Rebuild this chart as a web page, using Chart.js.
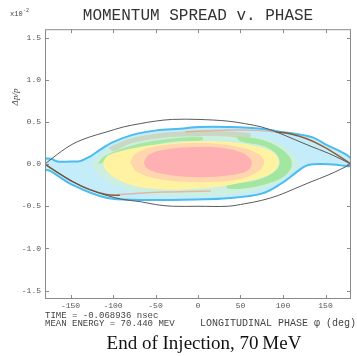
<!DOCTYPE html>
<html>
<head>
<meta charset="utf-8">
<script src="https://cdn.jsdelivr.net/npm/chart.js@4.4.1/dist/chart.umd.min.js"></script>
<style>
  html, body { margin: 0; padding: 0; background: #fff; }
  #wrap { width: 357px; height: 356px; }
</style>
</head>
<body>
<div id="wrap"><canvas id="phase" width="357" height="356"></canvas></div>
<script>
// tick values
const phaseTicks = [-150, -100, -50, 0, 50, 100, 150];
const dpTicks = [-1.5, -1.0, -0.5, 0.0, 0.5, 1.0, 1.5];

// separatrix (phase deg, dp/p x1e-2)
const sepUpper = [[-180, 0.0], [-165, 0.12], [-147, 0.24], [-128, 0.32], [-108, 0.38], [-88, 0.44], [-68, 0.48], [-50, 0.51], [-30, 0.53], [0, 0.53], [35, 0.51], [55, 0.48], [75, 0.44], [95, 0.37], [114, 0.29], [133, 0.21], [153, 0.13], [168, 0.06], [180, 0.0]];
const sepLower = [[-180, 0.0], [-165, -0.1], [-147, -0.21], [-128, -0.3], [-108, -0.37], [-88, -0.42], [-68, -0.445], [-50, -0.48], [-30, -0.5], [0, -0.5], [35, -0.5], [55, -0.47], [75, -0.43], [95, -0.37], [114, -0.29], [133, -0.21], [153, -0.13], [168, -0.06], [180, 0.0]];

// edge filaments: brown on the separatrix, orange along the beam edge
const brownLowLeft = [[-180, 0.0], [-165, -0.1], [-147, -0.21], [-128, -0.3], [-108, -0.36], [-92, -0.37]];
const brownUpRight = [[180, 0.0], [165, 0.1], [147, 0.21], [128, 0.3], [108, 0.36], [92, 0.38]];
const orangeLow = [[-95, -0.365], [-70, -0.345], [-40, -0.33], [-10, -0.325], [15, -0.32]];
const orangeUp = [[95, 0.38], [70, 0.4], [40, 0.405], [10, 0.395], [-15, 0.385]];

// beam density contours
const beamOuter = [[-180, 0.07], [-172, 0.06], [-165, 0.03], [-150, 0.03], [-139, 0.035], [-127, 0.09], [-116, 0.165], [-100, 0.26], [-76, 0.35], [-49, 0.4], [-21, 0.42], [2, 0.44], [35, 0.44], [75, 0.42], [98, 0.38], [114, 0.36], [134, 0.32], [153, 0.22], [173, 0.12], [180, 0.06], [180, -0.02], [172, -0.02], [165, -0.01], [146, 0.0], [130, -0.01], [122, -0.05], [114, -0.11], [98, -0.23], [75, -0.35], [35, -0.405], [-4, -0.42], [-30, -0.425], [-68, -0.425], [-108, -0.4], [-147, -0.25], [-174, -0.08], [-180, -0.06], [-180, 0.07]];
const beamGreenish = [[-125, 0.0], [-118, 0.08], [-105, 0.18], [-85, 0.27], [-60, 0.33], [-30, 0.37], [0, 0.38], [40, 0.37], [70, 0.33], [95, 0.25], [112, 0.12], [118, 0.0], [112, -0.08], [100, -0.18], [80, -0.28], [55, -0.34], [20, -0.37], [-20, -0.37], [-60, -0.35], [-90, -0.28], [-110, -0.18], [-120, -0.08], [-125, 0.0]];
const greyBandUp = [[-105, 0.2], [-80, 0.3], [-50, 0.36], [-10, 0.39], [30, 0.39], [62, 0.36], [60, 0.31], [30, 0.33], [-10, 0.33], [-50, 0.3], [-80, 0.24], [-100, 0.15], [-105, 0.2]];
const armLeft = [[-118, 0.0], [-112, 0.08], [-98, 0.15], [-78, 0.22], [-55, 0.27], [-25, 0.31], [5, 0.32], [5, 0.28], [-25, 0.27], [-55, 0.22], [-78, 0.17], [-98, 0.1], [-108, 0.03], [-118, 0.0]];
const armRight = [[45, 0.33], [75, 0.29], [95, 0.2], [108, 0.08], [110, -0.03], [102, -0.14], [85, -0.22], [60, -0.28], [35, -0.29], [35, -0.23], [60, -0.21], [80, -0.15], [93, -0.06], [96, 0.04], [90, 0.14], [75, 0.22], [50, 0.27], [45, 0.33]];
const beamYellow = [[-112, 0.02], [-106, 0.1], [-92, 0.15], [-70, 0.2], [-40, 0.24], [0, 0.27], [40, 0.26], [70, 0.21], [88, 0.14], [95, 0.04], [92, -0.06], [80, -0.14], [60, -0.2], [30, -0.26], [0, -0.29], [-40, -0.3], [-70, -0.27], [-95, -0.18], [-108, -0.08], [-112, 0.02]];
const beamPeach = [[-80, 0.02], [-74, 0.12], [-55, 0.2], [-25, 0.24], [10, 0.25], [45, 0.21], [70, 0.13], [78, 0.03], [72, -0.08], [52, -0.17], [20, -0.21], [-15, -0.21], [-50, -0.17], [-72, -0.09], [-80, 0.02]];
const beamPink = [[-64, 0.02], [-58, 0.11], [-40, 0.17], [-10, 0.2], [20, 0.2], [48, 0.15], [62, 0.06], [62, -0.04], [50, -0.11], [20, -0.15], [-15, -0.15], [-45, -0.11], [-60, -0.05], [-64, 0.02]];

function pts(list) {
    return list.map(p => ({ x: p[0], y: p[1] }));
}

function area(list, fillColor, borderColor, bw, ord) {
    return {
        data: pts(list),
        showLine: true,
        fill: 'shape',
        backgroundColor: fillColor,
        borderColor: borderColor,
        borderWidth: bw,
        pointRadius: 0,
        tension: 0.35,
        order: ord
    };
}

function curve(list, color, bw, ord) {
    return {
        data: pts(list),
        showLine: true,
        fill: false,
        borderColor: color,
        borderWidth: bw,
        pointRadius: 0,
        tension: 0.35,
        order: ord
    };
}

const mono = "'Liberation Mono', 'DejaVu Sans Mono', monospace";
const none = 'rgba(0,0,0,0)';

// frame, inside ticks and the loose texts
const framePlugin = {
    id: 'frame',
    afterDraw(chart) {
        const c = chart.ctx;
        const a = chart.chartArea;
        const xs = chart.scales.x, ys = chart.scales.y;
        c.save();
        c.strokeStyle = '#8a8a8a';
        c.lineWidth = 1;
        c.strokeRect(a.left + 0.5, a.top + 0.5, a.right - a.left - 1, a.bottom - a.top - 1);
        c.beginPath();
        phaseTicks.forEach(v => {
            const px = Math.round(xs.getPixelForValue(v)) + 0.5;
            c.moveTo(px, a.bottom); c.lineTo(px, a.bottom - 4);
            c.moveTo(px, a.top); c.lineTo(px, a.top + 4);
        });
        dpTicks.forEach(v => {
            const py = Math.round(ys.getPixelForValue(v)) + 0.5;
            c.moveTo(a.left, py); c.lineTo(a.left + 4, py);
            c.moveTo(a.right, py); c.lineTo(a.right - 4, py);
        });
        c.stroke();

        c.fillStyle = '#444';
        c.textBaseline = 'alphabetic';
        c.textAlign = 'left';
        c.font = '7px ' + mono;
        c.fillText('x10', 10, 16);
        c.font = '5px ' + mono;
        c.fillText('-2', 23, 12);

        c.font = '9px ' + mono;
        c.fillText('TIME = -0.068936 nsec', 45, 318);
        c.fillText('MEAN ENERGY = 70.440 MEV', 45, 326);
        c.font = '10px ' + mono;
        c.textAlign = 'right';
        c.fillText('LONGITUDINAL PHASE \u03c6 (deg)', 356, 326);

        c.fillStyle = '#111';
        c.textAlign = 'center';
        c.font = "19px 'Liberation Serif', 'DejaVu Serif', serif";
        c.fillText('End of Injection, 70\u2009MeV', 204, 349);

        c.fillStyle = '#444';
        c.translate(18, 97);
        c.rotate(-Math.PI / 2);
        c.font = "italic 9px 'Liberation Serif', serif";
        c.fillText('\u0394p/p', 0, 0);
        c.restore();
    }
};

const config = {
    type: 'scatter',
    data: {
        datasets: [
            curve(sepUpper, '#5a5a5a', 1, 0),
            curve(sepLower, '#5a5a5a', 1, 0),
            curve(brownLowLeft, 'rgba(140, 75, 30, 0.9)', 1.5, 1),
            curve(brownUpRight, 'rgba(140, 75, 30, 0.9)', 1.5, 1),
            curve(orangeLow, 'rgba(245, 140, 100, 0.55)', 1.5, 1),
            curve(orangeUp, 'rgba(245, 140, 100, 0.55)', 1.5, 1),
            area(beamPink, '#ffb0b3', none, 0, 2),
            area(beamPeach, '#ffd6ae', none, 0, 3),
            area(beamYellow, '#fff3a2', none, 0, 4),
            area(armLeft, '#a8e8a4', none, 0, 5),
            area(armRight, '#a2e6a0', none, 0, 5),
            area(greyBandUp, '#cad8c2', none, 0, 6),
            area(beamGreenish, '#cdefe0', none, 0, 7),
            area(beamOuter, '#c4ecf9', '#4cbbf0', 2, 8)
        ]
    },
    options: {
        responsive: false,
        animation: false,
        events: [],
        layout: {
            padding: { left: 0, right: 6, top: 0, bottom: 43 }
        },
        plugins: {
            legend: { display: false },
            tooltip: { enabled: false },
            title: {
                display: true,
                fullSize: false,
                text: 'MOMENTUM SPREAD v. PHASE',
                color: '#333',
                font: { family: mono, size: 16, weight: 'normal' },
                padding: { top: 6, bottom: 4 }
            }
        },
        scales: {
            x: {
                type: 'linear',
                min: -180,
                max: 180,
                grid: { display: false, drawTicks: false },
                border: { display: false },
                afterBuildTicks: (scale) => { scale.ticks = phaseTicks.map(v => ({ value: v })); },
                afterFit: (scale) => { scale.height = 14; },
                ticks: {
                    color: '#555',
                    padding: 2,
                    maxRotation: 0,
                    font: { family: mono, size: 8 },
                    callback: (v) => String(v)
                }
            },
            y: {
                type: 'linear',
                min: -1.6,
                max: 1.6,
                grid: { display: false, drawTicks: false },
                border: { display: false },
                afterBuildTicks: (scale) => { scale.ticks = dpTicks.map(v => ({ value: v })); },
                afterFit: (scale) => { scale.width = 45; },
                ticks: {
                    color: '#555',
                    padding: 4,
                    font: { family: mono, size: 8 },
                    callback: (v) => Number(v).toFixed(1)
                }
            }
        }
    },
    plugins: [framePlugin]
};

var ctx = document.getElementById('phase').getContext('2d');
var phaseChart = new Chart(ctx, config);
</script>
</body>
</html>
